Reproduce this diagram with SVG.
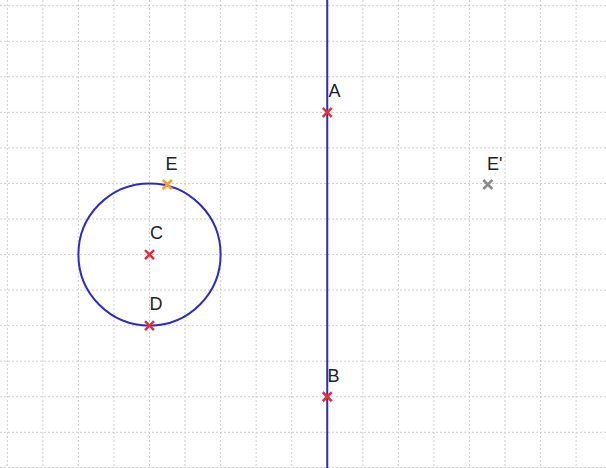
<svg xmlns="http://www.w3.org/2000/svg" width="606" height="468" viewBox="0 0 606 468">
<style>
.g{stroke:#cdcdcd;stroke-width:1;stroke-dasharray:2,2;fill:none}
.obj{stroke:#2b2bc8;stroke-width:2;fill:none}
.mk{stroke-width:2.5;stroke-linecap:butt;fill:none}
.red{stroke:#e0303a}
.org{stroke:#f0a030}
.gry{stroke:#8a8a8a}
.lb{font-family:"Liberation Sans",Arial,sans-serif;font-size:18px;fill:#222}
</style>
<defs>
<path id="x" d="M-4.5,-4.5L4.5,4.5M-4.5,4.5L4.5,-4.5"/>
</defs>
<rect width="606" height="468" fill="#fff"/>
<g id="grid">
<line class="g" x1="7.3" y1="0" x2="7.3" y2="468"/>
<line class="g" x1="42.85" y1="0" x2="42.85" y2="468"/>
<line class="g" x1="78.4" y1="0" x2="78.4" y2="468"/>
<line class="g" x1="113.95" y1="0" x2="113.95" y2="468"/>
<line class="g" x1="149.5" y1="0" x2="149.5" y2="468"/>
<line class="g" x1="185.05" y1="0" x2="185.05" y2="468"/>
<line class="g" x1="220.6" y1="0" x2="220.6" y2="468"/>
<line class="g" x1="256.15" y1="0" x2="256.15" y2="468"/>
<line class="g" x1="291.7" y1="0" x2="291.7" y2="468"/>
<line class="g" x1="327.25" y1="0" x2="327.25" y2="468"/>
<line class="g" x1="362.8" y1="0" x2="362.8" y2="468"/>
<line class="g" x1="398.35" y1="0" x2="398.35" y2="468"/>
<line class="g" x1="433.9" y1="0" x2="433.9" y2="468"/>
<line class="g" x1="469.45" y1="0" x2="469.45" y2="468"/>
<line class="g" x1="505" y1="0" x2="505" y2="468"/>
<line class="g" x1="540.55" y1="0" x2="540.55" y2="468"/>
<line class="g" x1="576.1" y1="0" x2="576.1" y2="468"/>
<line class="g" x1="0" y1="5.7" x2="606" y2="5.7"/>
<line class="g" x1="0" y1="41.25" x2="606" y2="41.25"/>
<line class="g" x1="0" y1="76.8" x2="606" y2="76.8"/>
<line class="g" x1="0" y1="112.35" x2="606" y2="112.35"/>
<line class="g" x1="0" y1="147.9" x2="606" y2="147.9"/>
<line class="g" x1="0" y1="183.45" x2="606" y2="183.45"/>
<line class="g" x1="0" y1="219" x2="606" y2="219"/>
<line class="g" x1="0" y1="254.55" x2="606" y2="254.55"/>
<line class="g" x1="0" y1="290.1" x2="606" y2="290.1"/>
<line class="g" x1="0" y1="325.65" x2="606" y2="325.65"/>
<line class="g" x1="0" y1="361.2" x2="606" y2="361.2"/>
<line class="g" x1="0" y1="396.75" x2="606" y2="396.75"/>
<line class="g" x1="0" y1="432.3" x2="606" y2="432.3"/>
<line class="g" x1="0" y1="467.5" x2="606" y2="467.5"/>
</g>
<g id="connectors">
<line id="lineAB" class="obj" x1="327.25" y1="0" x2="327.25" y2="468"/>
<circle id="circleC" class="obj" cx="149.5" cy="254.55" r="71.1"/>
</g>
<g id="A"><use href="#x" class="mk red" x="327.25" y="112.35"/><text class="lb" x="328.5" y="97">A</text></g>
<g id="B"><use href="#x" class="mk red" x="327.25" y="396.75"/><text class="lb" x="327.5" y="382">B</text></g>
<g id="C"><use href="#x" class="mk red" x="149.5" y="254.55"/><text class="lb" x="150" y="239">C</text></g>
<g id="D"><use href="#x" class="mk red" x="149.5" y="325.65"/><text class="lb" x="149.5" y="310">D</text></g>
<g id="E"><use href="#x" class="mk org" x="167.3" y="184.5"/><text class="lb" x="165.5" y="170">E</text></g>
<g id="E2"><use href="#x" class="mk gry" x="487.8" y="184.5"/><text class="lb" x="487" y="170">E'</text></g>
</svg>
